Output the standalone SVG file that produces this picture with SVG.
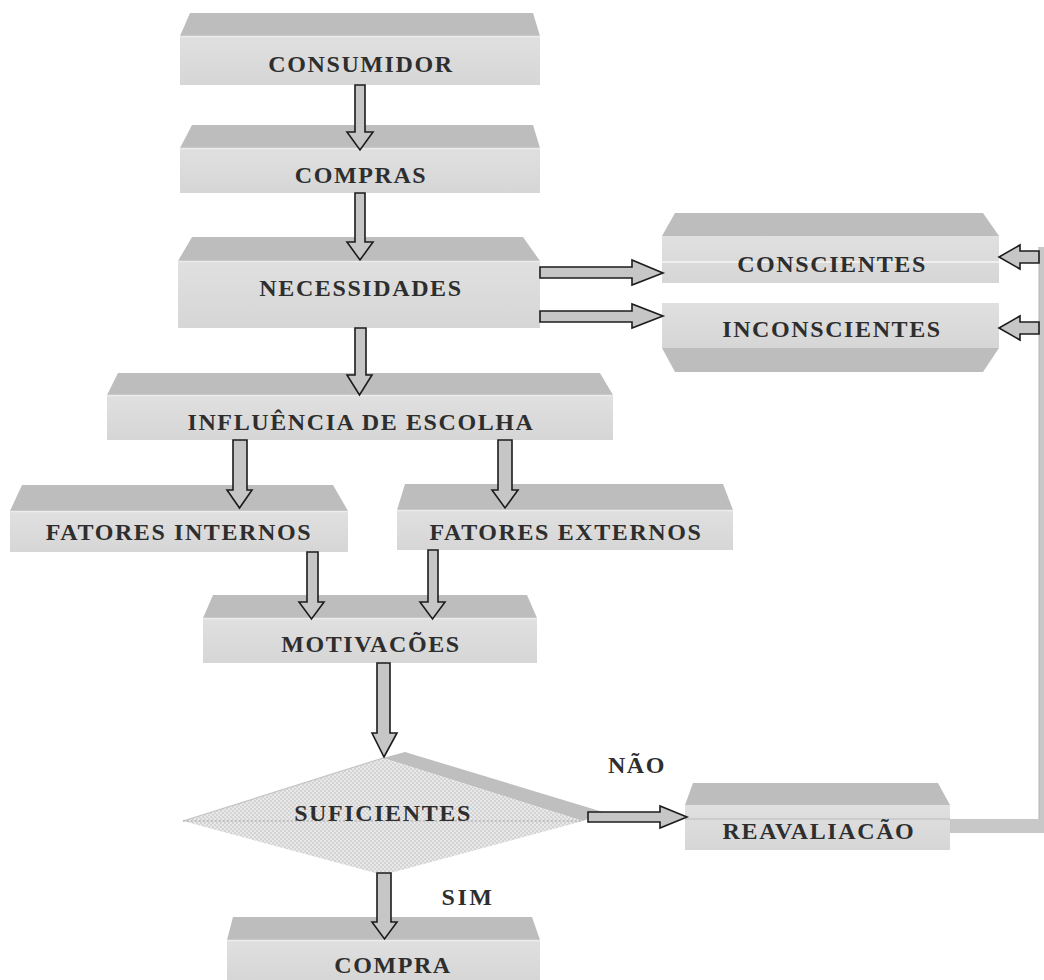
<svg xmlns="http://www.w3.org/2000/svg" width="1044" height="980" viewBox="0 0 1044 980">
  <defs>
    <pattern id="dots" width="4" height="4" patternUnits="userSpaceOnUse">
      <rect width="4" height="4" fill="#d4d4d4"/>
      <circle cx="1" cy="1" r="0.9" fill="#f2f2f2"/>
      <circle cx="3" cy="3" r="0.9" fill="#f2f2f2"/>
    </pattern>
    <linearGradient id="frontGrad" x1="0" y1="0" x2="0" y2="1">
      <stop offset="0" stop-color="#e0e0e0"/>
      <stop offset="1" stop-color="#d6d6d6"/>
    </linearGradient>
  </defs>
  <style>
    .top { fill: #bdbdbd; }
    .front { fill: url(#frontGrad); }
    .hl { stroke: #ececec; stroke-width: 1.5; }
    .lbl { font-family: "Liberation Serif", "Times New Roman", serif; font-weight: bold; font-size: 24px; letter-spacing: 1.6px; fill: #2e2e2e; text-anchor: middle; }
    .arrow { fill: #c6c6c6; stroke: #1c1c1c; stroke-width: 1.6; stroke-linejoin: miter; }
    .bar { fill: #c8c8c8; }
  </style>

  <rect width="1044" height="980" fill="#ffffff"/>

  <g id="consumidor">
    <polygon class="top" points="180,36 190,13 533,13 540,36"/>
    <rect class="front" x="180" y="36" width="360" height="49"/>
    <line class="hl" x1="180" y1="36.5" x2="540" y2="36.5"/>
    <text class="lbl" x="361" y="72">CONSUMIDOR</text>
  </g>

  <g id="compras">
    <polygon class="top" points="180,148 192,125 533,125 540,148"/>
    <rect class="front" x="180" y="148" width="360" height="45"/>
    <line class="hl" x1="180" y1="148.5" x2="540" y2="148.5"/>
    <text class="lbl" x="361" y="183">COMPRAS</text>
  </g>

  <g id="necessidades">
    <polygon class="top" points="178,261 192,237 523,237 540,261"/>
    <rect class="front" x="178" y="261" width="362" height="67"/>
    <line class="hl" x1="178" y1="261.5" x2="540" y2="261.5"/>
    <text class="lbl" x="361" y="296">NECESSIDADES</text>
  </g>

  <g id="conscientes">
    <polygon class="top" points="662,236 675,213 983,213 999,236"/>
    <rect class="front" x="662" y="236" width="337" height="47"/>
    <line x1="662" y1="262" x2="999" y2="262" stroke="#f6f6f6" stroke-width="1.5"/>
    <text class="lbl" x="832" y="272">CONSCIENTES</text>
  </g>

  <g id="inconscientes">
    <rect class="front" x="662" y="303" width="337" height="45"/>
    <polygon class="top" points="662,348 999,348 983,372 675,372"/>
    <text class="lbl" x="832" y="337">INCONSCIENTES</text>
  </g>

  <g id="influencia">
    <polygon class="top" points="107,395 118,373 600,373 613,395"/>
    <rect class="front" x="107" y="395" width="506" height="45"/>
    <line class="hl" x1="107" y1="395.5" x2="613" y2="395.5"/>
    <text class="lbl" x="361" y="430">INFLUÊNCIA DE ESCOLHA</text>
  </g>

  <g id="fatores-internos">
    <polygon class="top" points="10,511 22,485 333,485 348,511"/>
    <rect class="front" x="10" y="511" width="338" height="41"/>
    <line class="hl" x1="10" y1="511.5" x2="348" y2="511.5"/>
    <text class="lbl" x="179" y="540">FATORES INTERNOS</text>
  </g>

  <g id="fatores-externos">
    <polygon class="top" points="397,510 405,484 723,484 733,510"/>
    <rect class="front" x="397" y="510" width="336" height="40"/>
    <line class="hl" x1="397" y1="510.5" x2="733" y2="510.5"/>
    <text class="lbl" x="566" y="540">FATORES EXTERNOS</text>
  </g>

  <g id="motivacoes">
    <polygon class="top" points="203,618 213,595 527,595 537,618"/>
    <rect class="front" x="203" y="618" width="334" height="45"/>
    <line class="hl" x1="203" y1="618.5" x2="537" y2="618.5"/>
    <text class="lbl" x="371" y="652">MOTIVACÕES</text>
  </g>

  <g id="suficientes">
    <polygon points="383,758 405,752 603,812 583,821" fill="#bfbfbf"/>
    <polygon points="183,821 383,758 583,821 383,875" fill="url(#dots)"/>
    <line x1="183" y1="821" x2="383" y2="758" stroke="#c4c4c4" stroke-width="1.2"/>
    <line x1="183" y1="821" x2="583" y2="821" stroke="#a6a6a6" stroke-width="1" stroke-dasharray="2 2"/>
    <text class="lbl" x="383" y="821">SUFICIENTES</text>
  </g>

  <g id="reavaliacao">
    <polygon class="top" points="685,805 693,783 938,783 950,805"/>
    <rect class="front" x="685" y="805" width="265" height="45"/>
    <line x1="685" y1="819" x2="950" y2="819" stroke="#bcbcbc" stroke-width="1"/>
    <text class="lbl" x="819" y="839">REAVALIACÃO</text>
  </g>

  <g id="compra">
    <polygon class="top" points="227,940 233,917 532,917 540,940"/>
    <rect class="front" x="227" y="940" width="313" height="40"/>
    <line class="hl" x1="227" y1="940.5" x2="540" y2="940.5"/>
    <text class="lbl" x="393" y="973">COMPRA</text>
  </g>

  <g id="labels">
    <text class="lbl" x="637" y="773">NÃO</text>
    <text class="lbl" x="468" y="905" style="letter-spacing:2.5px">SIM</text>
  </g>

  <g id="connectors">
    <!-- feedback bar from REAVALIACÃO back up to the needs boxes -->
    <rect class="bar" x="950" y="819" width="94" height="14"/>
    <rect class="bar" x="1039" y="247" width="5" height="586"/>
    <line x1="1039" y1="247" x2="1039" y2="819" stroke="#b4b4b4" stroke-width="1"/>

    <!-- vertical arrows -->
    <polygon class="arrow" points="355,85 365,85 365,132 373,132 360,150 347,132 355,132"/>
    <polygon class="arrow" points="355,193 365,193 365,242 373,242 360,260 347,242 355,242"/>
    <polygon class="arrow" points="355,328 366,328 366,375 372,375 359.5,395 347,375 355,375"/>
    <polygon class="arrow" points="233,440 247,440 247,490 252,490 239.5,508 227,490 233,490"/>
    <polygon class="arrow" points="498,440 512,440 512,490 518,490 505,508 492,490 498,490"/>
    <polygon class="arrow" points="307,552 318,552 318,602 324,602 311.5,619 299,602 307,602"/>
    <polygon class="arrow" points="428,550 438,550 438,602 445,602 432.5,619 420,602 428,602"/>
    <polygon class="arrow" points="377,663 390,663 390,733 397,733 384,757 372,733 377,733"/>
    <polygon class="arrow" points="377,873 391,873 391,922 397,922 384.5,939 372,922 377,922"/>

    <!-- horizontal arrows -->
    <polygon class="arrow" points="540,267 632,267 632,260 663,273 632,285 632,278 540,278"/>
    <polygon class="arrow" points="540,311 632,311 632,304 663,316 632,328 632,322 540,322"/>
    <polygon class="arrow" points="588,812 660,812 660,806 687,817 660,828 660,822 588,822"/>

    <!-- return arrows into the needs boxes -->
    <polygon class="arrow" points="1039,251 1020,251 1020,245 999,257 1020,269 1020,263 1039,263"/>
    <polygon class="arrow" points="1039,322 1020,322 1020,316 999,328 1020,340 1020,334 1039,334"/>
  </g>
</svg>
